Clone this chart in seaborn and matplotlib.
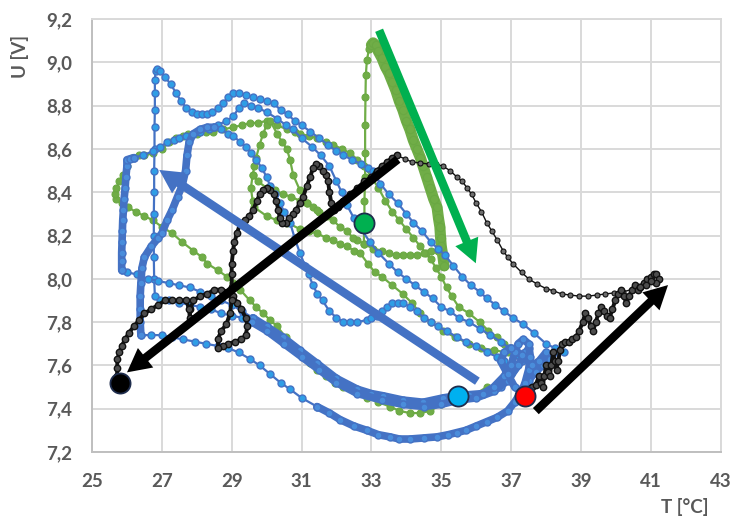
import matplotlib
matplotlib.use("Agg")
import matplotlib.pyplot as plt
import seaborn as sns
from matplotlib.ticker import FuncFormatter
from matplotlib.patches import FancyArrowPatch

# ---------------- measured traces: (T [°C], U [V]) ----------------
# blue run
blue_spike = [(29.6, 7.80), (29.3, 7.82), (29.0, 7.83), (28.7, 7.84), (28.4, 7.86), (28.1, 7.87),
              (27.8, 7.88), (27.5, 7.89), (27.2, 7.90), (26.95, 7.90), (26.8, 7.92), (26.78, 8.00),
              (26.77, 8.10), (26.77, 8.20), (26.77, 8.30), (26.78, 8.40), (26.78, 8.50), (26.79, 8.60),
              (26.79, 8.70), (26.8, 8.78), (26.8, 8.86), (26.8, 8.92), (26.82, 8.96), (26.86, 8.97),
              (26.95, 8.96), (27.1, 8.93), (27.25, 8.90), (27.4, 8.86), (27.55, 8.82), (27.7, 8.79),
              (27.85, 8.77), (28.0, 8.76), (28.15, 8.76), (28.3, 8.76), (28.45, 8.77), (28.6, 8.79),
              (28.75, 8.81), (28.9, 8.84), (29.05, 8.86), (29.2, 8.86), (29.4, 8.85), (29.6, 8.84),
              (29.8, 8.83), (30.0, 8.82), (30.2, 8.81), (30.4, 8.78), (30.6, 8.76), (30.8, 8.73),
              (31.0, 8.71), (31.25, 8.68), (31.5, 8.65), (31.75, 8.62), (32.0, 8.59), (32.2, 8.57),
              (32.45, 8.55), (32.7, 8.53), (32.9, 8.51), (33.05, 8.50), (33.25, 8.44), (33.5, 8.39),
              (33.75, 8.35), (34.0, 8.30), (34.2, 8.26), (34.45, 8.22), (34.7, 8.17), (34.9, 8.14),
              (35.1, 8.11), (35.35, 8.06), (35.6, 8.01), (35.85, 7.97), (36.1, 7.94), (36.3, 7.91),
              (36.55, 7.88), (36.8, 7.85), (37.05, 7.82), (37.35, 7.79), (37.65, 7.75), (38.0, 7.70),
              (38.25, 7.68), (38.5, 7.66)]
blue_upper_low = [(29.6, 7.82), (29.3, 7.85), (29.0, 7.88), (28.7, 7.90), (28.4, 7.92), (28.1, 7.94),
                  (27.8, 7.96), (27.5, 7.97), (27.2, 7.98), (26.9, 7.99), (26.6, 8.00), (26.3, 8.02),
                  (26.0, 8.03), (25.85, 8.04)]
blue_left_post = [(25.85, 8.04), (25.85, 8.08), (25.85, 8.12), (25.86, 8.17), (25.87, 8.22), (25.88, 8.27),
                  (25.9, 8.32), (25.92, 8.37), (25.95, 8.42), (25.97, 8.47), (26.0, 8.52), (26.0, 8.55),
                  (26.1, 8.555), (26.2, 8.56)]
blue_ridge = [(26.2, 8.56), (26.45, 8.57), (26.75, 8.59), (26.95, 8.61), (27.15, 8.63), (27.35, 8.64),
              (27.5, 8.65), (27.7, 8.66), (27.9, 8.67), (28.1, 8.68), (28.35, 8.69), (28.6, 8.71),
              (28.85, 8.73), (29.05, 8.75), (29.2, 8.79), (29.35, 8.81), (29.55, 8.80), (29.75, 8.79),
              (30.0, 8.77), (30.3, 8.74), (30.55, 8.71), (30.75, 8.69), (31.0, 8.65), (31.3, 8.61),
              (31.55, 8.57), (31.8, 8.52), (32.0, 8.45), (32.15, 8.40), (32.3, 8.34), (32.5, 8.28),
              (32.7, 8.23), (32.96, 8.17), (33.2, 8.12), (33.5, 8.07), (33.75, 8.03), (34.0, 8.00),
              (34.25, 7.97), (34.5, 7.94), (34.75, 7.91), (35.0, 7.87), (35.25, 7.85), (35.5, 7.82),
              (35.8, 7.80), (36.1, 7.77), (36.4, 7.74), (36.7, 7.71), (36.95, 7.68), (37.15, 7.65)]
blue_mid_post = [(26.4, 7.74), (26.38, 7.80), (26.38, 7.86), (26.38, 7.92), (26.4, 7.98), (26.43, 8.05),
                 (26.5, 8.10), (26.7, 8.15), (26.9, 8.19), (27.0, 8.21), (27.15, 8.27), (27.3, 8.32),
                 (27.45, 8.38), (27.58, 8.43), (27.68, 8.50), (27.72, 8.57), (27.78, 8.63), (27.9, 8.67),
                 (28.1, 8.69), (28.3, 8.70), (28.5, 8.70)]
blue_steep = [(28.5, 8.70), (28.7, 8.69), (28.9, 8.67), (29.05, 8.66), (29.25, 8.63), (29.4, 8.61),
              (29.55, 8.58), (29.7, 8.55), (29.87, 8.51), (30.0, 8.47), (30.1, 8.43), (30.25, 8.39),
              (30.38, 8.35), (30.5, 8.31), (30.67, 8.26), (30.8, 8.19), (30.95, 8.12), (31.1, 8.06),
              (31.2, 8.02), (31.33, 7.97), (31.45, 7.93), (31.6, 7.90), (31.8, 7.85), (32.0, 7.82),
              (32.2, 7.80), (32.4, 7.80), (32.6, 7.80), (32.87, 7.81), (33.0, 7.82), (33.15, 7.83),
              (33.3, 7.85), (33.45, 7.87), (33.6, 7.89), (33.75, 7.89), (33.9, 7.89), (34.1, 7.87),
              (34.3, 7.85), (34.5, 7.82), (34.7, 7.80), (34.9, 7.78), (35.15, 7.76), (35.45, 7.73),
              (35.7, 7.71), (36.0, 7.69), (36.3, 7.66), (36.6, 7.64), (36.8, 7.62), (37.0, 7.60)]
blue_floor_thin = [(26.4, 7.74), (26.7, 7.74), (27.0, 7.74), (27.3, 7.73), (27.6, 7.72), (27.95, 7.71),
                   (28.25, 7.70), (28.6, 7.69), (28.9, 7.68), (29.2, 7.66), (29.52, 7.63), (29.8, 7.60),
                   (30.1, 7.56), (30.4, 7.52), (30.67, 7.49), (31.0, 7.45), (31.44, 7.41)]
blue_floor = [(31.44, 7.41), (31.8, 7.38), (32.1, 7.35), (32.5, 7.32), (32.87, 7.30), (33.2, 7.28),
              (33.53, 7.27), (33.8, 7.26), (34.1, 7.26), (34.5, 7.265), (34.88, 7.27), (35.2, 7.28),
              (35.45, 7.29), (35.7, 7.30), (36.0, 7.32), (36.3, 7.34), (36.6, 7.36), (36.9, 7.39),
              (37.1, 7.43), (37.3, 7.48), (37.5, 7.53), (37.7, 7.57), (37.9, 7.60), (38.1, 7.63),
              (38.25, 7.66)]
blue_band_a = [(29.6, 7.82), (30.0, 7.78), (30.47, 7.73), (30.95, 7.67), (31.44, 7.61), (32.0, 7.54),
               (32.6, 7.49), (33.0, 7.47), (33.33, 7.46), (33.9, 7.44), (34.48, 7.43), (35.05, 7.45),
               (35.45, 7.46), (35.8, 7.465), (36.2, 7.47), (36.7, 7.50), (37.0, 7.56), (37.3, 7.62),
               (37.5, 7.68)]
blue_band_b = [(29.58, 7.80), (30.0, 7.76), (30.5, 7.70), (31.0, 7.64), (31.5, 7.58), (32.0, 7.52),
               (32.6, 7.47), (33.3, 7.44), (33.9, 7.42), (34.5, 7.41), (35.0, 7.42), (35.5, 7.44),
               (36.0, 7.45), (36.5, 7.48), (36.9, 7.53), (37.2, 7.60), (37.4, 7.66)]
blue_knot = [(36.2, 7.47), (36.5, 7.50), (36.8, 7.55), (37.0, 7.60), (37.1, 7.66), (37.2, 7.70),
             (37.35, 7.72), (37.5, 7.70), (37.55, 7.64), (37.5, 7.58), (37.4, 7.52), (37.3, 7.48),
             (37.1, 7.50), (36.9, 7.56), (36.7, 7.62), (36.8, 7.66), (37.0, 7.68), (37.3, 7.65),
             (37.6, 7.60), (37.8, 7.62), (38.0, 7.66)]

# green run
green_outer = [(36.3, 7.50), (35.9, 7.46), (35.5, 7.44), (35.0, 7.42), (34.68, 7.39), (34.4, 7.38),
               (34.1, 7.38), (33.8, 7.39), (33.53, 7.41), (33.2, 7.43), (32.87, 7.45), (32.5, 7.48),
               (32.19, 7.50), (31.95, 7.52), (31.7, 7.55), (31.45, 7.58), (31.24, 7.61), (31.0, 7.65),
               (30.76, 7.69), (30.55, 7.73), (30.3, 7.78), (30.1, 7.81), (29.9, 7.84), (29.7, 7.87),
               (29.52, 7.90), (29.24, 7.95), (29.05, 7.98), (28.86, 8.01), (28.6, 8.04), (28.3, 8.07),
               (28.15, 8.10), (27.9, 8.13), (27.58, 8.17), (27.3, 8.21), (27.0, 8.24), (26.75, 8.27),
               (26.5, 8.29), (26.25, 8.31), (26.03, 8.33), (25.85, 8.35), (25.7, 8.37), (25.66, 8.39),
               (25.7, 8.42), (25.78, 8.45), (25.88, 8.48), (26.0, 8.52), (26.15, 8.56), (26.35, 8.57),
               (26.5, 8.57), (26.75, 8.58), (27.0, 8.60), (27.2, 8.63), (27.4, 8.65), (27.6, 8.66),
               (27.75, 8.67), (28.0, 8.67), (28.25, 8.68), (28.47, 8.68), (28.75, 8.69), (29.04, 8.70),
               (29.3, 8.71), (29.52, 8.72), (29.75, 8.72), (30.0, 8.73), (30.3, 8.71), (30.58, 8.69),
               (30.8, 8.68), (30.95, 8.67), (31.2, 8.66), (31.44, 8.65), (31.7, 8.63), (31.9, 8.62),
               (32.15, 8.60), (32.4, 8.58), (32.6, 8.55), (32.8, 8.52), (33.0, 8.47), (33.2, 8.42),
               (33.4, 8.36), (33.6, 8.31), (33.8, 8.27), (34.0, 8.23), (34.2, 8.19), (34.4, 8.15),
               (34.55, 8.12), (34.7, 8.09), (34.85, 8.05), (35.0, 8.01), (35.15, 7.96), (35.3, 7.92),
               (35.5, 7.87), (35.8, 7.84), (36.1, 7.80), (36.35, 7.76), (36.6, 7.73), (36.8, 7.70),
               (37.0, 7.68)]
green_climb = [(32.78, 8.16), (32.8, 8.26), (32.8, 8.36), (32.82, 8.47), (32.82, 8.58), (32.82, 8.71),
               (32.83, 8.84), (32.84, 8.94), (32.87, 9.01), (32.93, 9.06), (33.0, 9.08)]
green_slide = [(33.0, 9.08), (33.05, 9.09), (33.12, 9.08), (33.2, 9.05), (33.3, 9.02), (33.4, 8.98),
               (33.5, 8.95), (33.6, 8.91), (33.7, 8.87), (33.8, 8.82), (33.9, 8.78), (34.0, 8.73),
               (34.1, 8.69), (34.2, 8.64), (34.3, 8.60), (34.4, 8.56), (34.48, 8.52), (34.58, 8.47),
               (34.68, 8.42), (34.78, 8.37), (34.88, 8.33), (34.92, 8.28), (34.96, 8.24), (34.98, 8.19),
               (35.0, 8.15), (35.05, 8.10), (35.08, 8.06)]
green_shelf = [(35.08, 8.06), (34.9, 8.13), (34.7, 8.13), (34.5, 8.12), (34.3, 8.11), (34.1, 8.11),
               (33.9, 8.11), (33.7, 8.11), (33.5, 8.12), (33.3, 8.13), (33.05, 8.14), (32.8, 8.16),
               (32.6, 8.18), (32.47, 8.19), (32.3, 8.22), (32.1, 8.24), (31.9, 8.27), (31.73, 8.29),
               (31.5, 8.31), (31.33, 8.33), (31.15, 8.35), (30.95, 8.36), (30.7, 8.38), (30.47, 8.39),
               (30.25, 8.41), (30.0, 8.42), (29.75, 8.45), (29.6, 8.48), (29.55, 8.42), (29.6, 8.36),
               (29.65, 8.33), (30.0, 8.29), (30.3, 8.27), (30.58, 8.26), (30.95, 8.23), (31.2, 8.22),
               (31.44, 8.21), (31.7, 8.19), (31.9, 8.18), (32.1, 8.16), (32.3, 8.15), (32.5, 8.13),
               (32.67, 8.12), (32.9, 8.07), (33.1, 8.03), (33.3, 8.01), (33.6, 7.97), (33.9, 7.93),
               (34.15, 7.89), (34.4, 7.84), (34.7, 7.80), (35.05, 7.76), (35.4, 7.73), (35.8, 7.70),
               (36.15, 7.68), (36.5, 7.67), (36.9, 7.66)]
green_hook = [(29.6, 8.48), (29.65, 8.52), (29.7, 8.56), (29.8, 8.62), (29.9, 8.67), (30.0, 8.71),
              (30.1, 8.73), (30.3, 8.67), (30.45, 8.63), (30.58, 8.60), (30.67, 8.55), (30.76, 8.48),
              (30.95, 8.41), (31.15, 8.35), (31.44, 8.32)]

# black run
black_rise = [(37.4, 7.46), (37.5, 7.49), (37.6, 7.50), (37.7, 7.51), (37.8, 7.55), (37.85, 7.52),
              (37.9, 7.50), (37.95, 7.55), (38.0, 7.60), (38.05, 7.57), (38.1, 7.55), (38.15, 7.60),
              (38.2, 7.66), (38.25, 7.62), (38.3, 7.58), (38.35, 7.62), (38.4, 7.67), (38.45, 7.70),
              (38.55, 7.71), (38.65, 7.71), (38.75, 7.72), (38.85, 7.73), (38.95, 7.76), (39.05, 7.80),
              (39.12, 7.84), (39.2, 7.82), (39.28, 7.78), (39.35, 7.76), (39.42, 7.80), (39.5, 7.84),
              (39.58, 7.87), (39.66, 7.85), (39.74, 7.83), (39.82, 7.82), (39.9, 7.86), (39.98, 7.90),
              (40.06, 7.93), (40.14, 7.95), (40.22, 7.92), (40.3, 7.89), (40.38, 7.92), (40.46, 7.95),
              (40.54, 7.97), (40.62, 7.95), (40.7, 7.96), (40.8, 7.98), (40.9, 8.00), (41.0, 8.01),
              (41.08, 8.02), (41.16, 8.02), (41.22, 8.00), (41.15, 7.98), (41.0, 7.99), (40.85, 7.97),
              (40.7, 7.96)]
black_return = [(40.7, 7.96), (40.45, 7.95), (40.2, 7.94), (39.95, 7.935), (39.7, 7.93), (39.45, 7.925),
                (39.2, 7.92), (38.95, 7.92), (38.7, 7.925), (38.45, 7.93), (38.2, 7.945), (38.0, 7.955),
                (37.75, 7.975), (37.5, 8.0), (37.3, 8.03), (37.05, 8.07), (36.9, 8.10), (36.77, 8.13),
                (36.6, 8.18), (36.45, 8.22), (36.3, 8.26), (36.15, 8.31), (36.0, 8.35), (35.87, 8.39),
                (35.74, 8.42), (35.6, 8.45), (35.45, 8.47), (35.25, 8.50), (35.05, 8.52), (34.85, 8.53),
                (34.65, 8.53), (34.4, 8.535), (34.15, 8.54), (33.95, 8.555), (33.72, 8.57)]
black_fall = [(33.72, 8.57), (33.6, 8.56), (33.45, 8.54), (33.3, 8.52), (33.15, 8.50), (33.0, 8.47),
              (32.8, 8.45), (32.6, 8.42), (32.4, 8.39), (32.2, 8.36), (32.05, 8.33), (31.92, 8.32),
              (31.85, 8.35), (31.8, 8.40), (31.76, 8.45), (31.7, 8.48), (31.6, 8.50), (31.5, 8.52),
              (31.4, 8.53), (31.32, 8.51), (31.25, 8.47), (31.15, 8.43), (31.05, 8.38), (30.95, 8.35),
              (30.85, 8.32), (30.75, 8.30), (30.65, 8.28), (30.55, 8.26), (30.45, 8.26), (30.38, 8.28),
              (30.33, 8.32), (30.28, 8.36), (30.2, 8.39), (30.1, 8.41), (30.0, 8.42), (29.9, 8.41),
              (29.8, 8.39), (29.72, 8.36), (29.62, 8.32), (29.5, 8.29), (29.38, 8.27), (29.25, 8.26),
              (29.15, 8.21), (29.08, 8.17), (29.04, 8.13), (29.0, 8.07), (29.0, 8.02), (29.0, 7.96),
              (29.05, 7.92), (29.15, 7.89), (29.28, 7.86), (29.4, 7.82), (29.45, 7.78), (29.4, 7.74),
              (29.28, 7.72), (29.1, 7.71), (28.9, 7.70), (28.75, 7.69), (28.62, 7.68), (28.6, 7.72),
              (28.7, 7.76), (28.85, 7.79), (28.95, 7.84), (29.0, 7.90), (28.9, 7.94), (28.7, 7.95),
              (28.5, 7.95), (28.3, 7.93), (28.1, 7.92), (27.9, 7.90), (27.82, 7.86), (27.8, 7.82),
              (27.78, 7.86), (27.7, 7.90), (27.5, 7.90), (27.3, 7.90), (27.1, 7.90), (26.9, 7.88),
              (26.7, 7.86), (26.5, 7.84), (26.35, 7.81), (26.2, 7.78), (26.05, 7.75), (25.95, 7.72),
              (25.85, 7.69), (25.78, 7.66), (25.73, 7.63), (25.72, 7.59), (25.72, 7.55), (25.75, 7.53),
              (25.8, 7.52)]

# trend arrows: (start, end, colour)
trend_arrows = [((36.1, 7.52), (26.86, 8.51), "#4472c4"),
                ((33.19, 9.16), (36.02, 8.06), "#00b050"),
                ((37.65, 7.38), (41.55, 7.98), "#000000"),
                ((33.82, 8.56), (25.94, 7.56), "#000000")]
# highlighted states: (T, U, fill)
key_points = [(32.79, 8.26, "#00b050"), (35.48, 7.46, "#00b0f0"),
              (37.4, 7.46, "#ff0000"), (25.8, 7.52, "#000000")]

x_ticks = [25, 27, 29, 31, 33, 35, 37, 39, 41, 43]
y_ticks = [7.2, 7.4, 7.6, 7.8, 8.0, 8.2, 8.4, 8.6, 8.8, 9.0, 9.2]

# ---------------- styles ----------------
BLUE = "#4472c4"
BLUE_FACE = "#2f9ee6"
GREEN = "#70ad47"
thin_blue = dict(color=BLUE, linewidth=1.6, marker="o", markersize=5, markerfacecolor=BLUE_FACE,
                 markeredgecolor=BLUE, markeredgewidth=1.0, zorder=3)
thick_blue = dict(color=BLUE, linewidth=5.5, marker="o", markersize=5, markerfacecolor="#4a8ddb",
                  markeredgecolor=BLUE, markeredgewidth=1.0, zorder=3)
thin_green = dict(color=GREEN, linewidth=1.6, marker="o", markersize=5, markerfacecolor=GREEN,
                  markeredgecolor="#6aa843", markeredgewidth=0.8, zorder=2)
thick_green = dict(color=GREEN, linewidth=8.0, marker="o", markersize=6, markerfacecolor=GREEN,
                   markeredgecolor="#6aa843", markeredgewidth=0.8, zorder=2)
dense_black = dict(color="#111111", linewidth=2.8, marker="o", markersize=4.6, markerfacecolor="#4d4d4d",
                   markeredgecolor="#111111", markeredgewidth=1.0, zorder=4)
thin_black = dict(color="#111111", linewidth=1.0, marker="o", markersize=3.6, markerfacecolor="#6e6e6e",
                  markeredgecolor="#111111", markeredgewidth=0.8, zorder=4)

sns.set_style("white")
plt.rcParams["font.family"] = ["Lato", "DejaVu Sans"]

fig = plt.figure(figsize=(7.33, 5.17), dpi=100)
ax = fig.add_axes([0.1255, 0.1257, 0.8577, 0.8375])


def trace(path, style):
    t_vals = [p[0] for p in path]
    u_vals = [p[1] for p in path]
    sns.lineplot(x=t_vals, y=u_vals, sort=False, estimator=None, ax=ax, **style)


for path, style in [
    (green_outer, thin_green), (green_shelf, thin_green), (green_hook, thin_green),
    (green_climb, thin_green), (green_slide, thick_green),
    (blue_spike, thin_blue), (blue_upper_low, thin_blue), (blue_ridge, thin_blue),
    (blue_steep, thin_blue), (blue_floor_thin, thin_blue),
    (blue_left_post, thick_blue), (blue_mid_post, thick_blue), (blue_floor, thick_blue),
    (blue_band_a, thick_blue), (blue_band_b, thick_blue), (blue_knot, thick_blue),
    (black_return, thin_black), (black_rise, dense_black), (black_fall, dense_black),
]:
    trace(path, style)

# direction-of-travel arrows
for (start, end, colour) in trend_arrows:
    arrow = FancyArrowPatch(start, end, arrowstyle="simple,head_length=1.0,head_width=1.05,tail_width=0.36",
                            mutation_scale=17, color=colour, linewidth=0,
                            zorder=6 if colour == "#000000" else 5)
    ax.add_patch(arrow)

for (t, u, fill) in key_points:
    ax.plot([t], [u], marker="o", markersize=14.5, markerfacecolor=fill,
            markeredgecolor="#1f2d4d", markeredgewidth=1.3, linestyle="none", zorder=7)

# ---------------- axes ----------------
ax.set_xlim(25, 43)
ax.set_ylim(7.2, 9.2)
ax.set_xticks(x_ticks)
ax.set_yticks(y_ticks)
ax.xaxis.set_major_formatter(FuncFormatter(lambda v, p: f"{v:.0f}"))
ax.yaxis.set_major_formatter(FuncFormatter(lambda v, p: f"{v:.1f}".replace(".", ",")))
ax.grid(True, color="#d9d9d9", linewidth=1.4)
ax.set_axisbelow(True)
for side in ["top", "right"]:
    ax.spines[side].set_color("#d9d9d9")
    ax.spines[side].set_linewidth(1.4)
for side in ["left", "bottom"]:
    ax.spines[side].set_color("#bfbfbf")
    ax.spines[side].set_linewidth(1.4)
ax.tick_params(axis="both", length=0, labelsize=13.5, labelcolor="#595959")
ax.tick_params(axis="y", pad=14)
ax.tick_params(axis="x", pad=15)
for lab in ax.get_xticklabels() + ax.get_yticklabels():
    lab.set_fontweight("bold")
ax.set_xlabel("")
ax.set_ylabel("")

fig.text(20 / 733, 1 - 56 / 517, "U [V]", rotation=90, ha="center", va="center",
         fontsize=13.5, fontweight="bold", color="#595959")
fig.text(685 / 733, 1 - 507 / 517, "T [°C]", ha="center", va="center",
         fontsize=13.5, fontweight="bold", color="#595959")

fig.savefig("out.png", dpi=100)
